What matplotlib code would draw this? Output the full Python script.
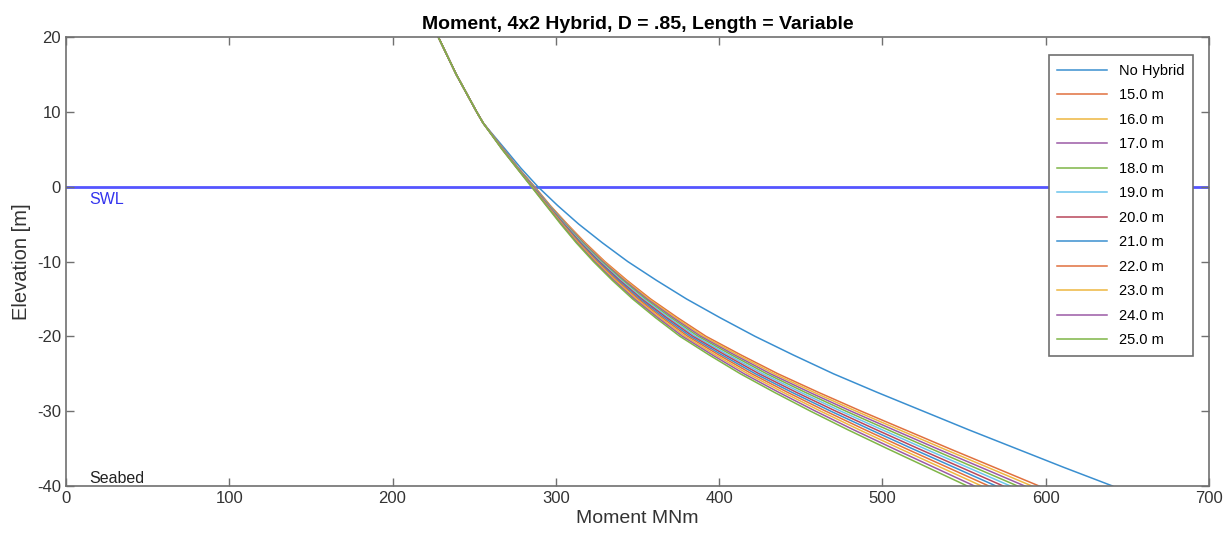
import matplotlib
matplotlib.use('Agg')
import matplotlib.pyplot as plt

# Elevation grid [m] and bending moment [MNm]
elevation = [20, 15, 10, 8.5, 5, 2.5, 0, -2.5, -5, -7.5, -10, -12.5, -15, -17.5,
             -20, -22.5, -25, -27.5, -30, -32.5, -35, -37.5, -40]

no_hybrid = [228, 239, 251.5, 255.5, 269.0, 278.5, 289.0, 301.0, 314.0, 328.5, 344.0, 361.5,
             380.0, 400.5, 422.0, 445.5, 470.0, 497.0, 525.0, 553.0, 582.0, 611.0, 641.0]

hybrid_labels = ['15.0 m', '16.0 m', '17.0 m', '18.0 m', '19.0 m', '20.0 m',
                 '21.0 m', '22.0 m', '23.0 m', '24.0 m', '25.0 m']

hybrid_moment = [
    [228, 239, 251.5, 255.5, 268.0, 277.0, 287.0, 296.5, 307.0, 318.0, 330.0, 343.5,
     358.0, 374.5, 392.0, 413.5, 436.0, 461.0, 487.0, 514.0, 541.0, 568.5, 596.0],
    [228, 239, 251.5, 255.5, 267.9, 276.9, 286.8, 296.2, 306.6, 317.4, 329.3, 342.6,
     356.9, 373.2, 390.4, 411.6, 433.7, 458.3, 483.9, 510.5, 537.2, 564.4, 591.6],
    [228, 239, 251.5, 255.5, 267.8, 276.8, 286.6, 296.0, 306.2, 316.9, 328.6, 341.7,
     355.8, 371.8, 388.8, 409.6, 431.4, 455.6, 480.8, 507.0, 533.4, 560.3, 587.2],
    [228, 239, 251.5, 255.5, 267.7, 276.7, 286.4, 295.8, 305.8, 316.4, 327.9, 340.8,
     354.7, 370.4, 387.2, 407.7, 429.1, 452.9, 477.7, 503.5, 529.6, 556.2, 582.8],
    [228, 239, 251.5, 255.5, 267.6, 276.6, 286.2, 295.5, 305.4, 315.8, 327.2, 339.9,
     353.6, 369.1, 385.6, 405.7, 426.8, 450.2, 474.6, 500.0, 525.8, 552.1, 578.4],
    [228, 239, 251.5, 255.5, 267.5, 276.5, 286.0, 295.2, 305.0, 315.2, 326.5, 339.0,
     352.5, 367.8, 384.0, 403.8, 424.5, 447.5, 471.5, 496.5, 522.0, 548.0, 574.0],
    [228, 239, 251.5, 255.5, 267.4, 276.4, 285.8, 295.0, 304.6, 314.7, 325.8, 338.1,
     351.4, 366.4, 382.4, 401.8, 422.2, 444.8, 468.4, 493.0, 518.2, 543.9, 569.6],
    [228, 239, 251.5, 255.5, 267.3, 276.3, 285.6, 294.8, 304.2, 314.2, 325.1, 337.2,
     350.3, 365.0, 380.8, 399.9, 419.9, 442.1, 465.3, 489.5, 514.4, 539.8, 565.2],
    [228, 239, 251.5, 255.5, 267.2, 276.2, 285.4, 294.5, 303.8, 313.6, 324.4, 336.3,
     349.2, 363.7, 379.2, 397.9, 417.6, 439.4, 462.2, 486.0, 510.6, 535.7, 560.8],
    [228, 239, 251.5, 255.5, 267.1, 276.1, 285.2, 294.2, 303.4, 313.0, 323.7, 335.4,
     348.1, 362.4, 377.6, 396.0, 415.3, 436.7, 459.1, 482.5, 506.8, 531.6, 556.4],
    [228, 239, 251.5, 255.5, 267.0, 276.0, 285.0, 294.0, 303.0, 312.5, 323.0, 334.5,
     347.0, 361.0, 376.0, 394.0, 413.0, 434.0, 456.0, 479.0, 503.0, 527.5, 552.0],
]

# MATLAB default colour order, a bit washed out like the screenshot
colors = ['#3a8fd0', '#e0703e', '#eeb640', '#9b5aa6', '#7fb546', '#6ac4ec', '#b8475a']

plt.rcParams['font.family'] = ['Liberation Sans', 'DejaVu Sans']
plt.rcParams['axes.unicode_minus'] = False

fig = plt.figure(figsize=(12.31, 5.48), dpi=100)
ax = fig.add_axes([0.0536, 0.1131, 0.9285, 0.8194])

ax.plot(no_hybrid, elevation, color=colors[0], lw=1.1, label='No Hybrid')
for i, (lbl, mom) in enumerate(zip(hybrid_labels, hybrid_moment)):
    ax.plot(mom, elevation, color=colors[(i + 1) % len(colors)], lw=1.1, label=lbl)

# still water level and seabed markers
ax.axhline(0, color='#5555ff', lw=2, zorder=1)
ax.text(14, -0.7, 'SWL', color='#3333ee', fontsize=11.5, va='top', ha='left')
ax.text(14, -40, 'Seabed', color='#222222', fontsize=11.5, va='bottom', ha='left')

ax.set_xlim(0, 700)
ax.set_ylim(-40, 20)
ax.set_xticks(range(0, 701, 100))
ax.set_yticks(range(-40, 21, 10))

ax.set_title('Moment, 4x2 Hybrid, D = .85, Length = Variable',
             fontsize=14, fontweight='bold', pad=6)
ax.set_xlabel('Moment MNm', fontsize=14, color='#333333', labelpad=3)
ax.set_ylabel('Elevation [m]', fontsize=14.5, color='#333333', labelpad=4)

for sp in ax.spines.values():
    sp.set_color('#707070')
    sp.set_linewidth(1.2)
ax.tick_params(direction='in', length=6, width=1, color='#707070',
               labelcolor='#333333', labelsize=12, top=True, right=True)

leg = ax.legend(loc='upper right', bbox_to_anchor=(0.986, 0.96), borderaxespad=0,
                fontsize=10.5, fancybox=False, edgecolor='#707070', framealpha=1,
                handlelength=3.4, labelspacing=0.72, borderpad=0.6,
                handletextpad=0.8)
leg.get_frame().set_linewidth(1.2)

fig.savefig('out.png', dpi=100)
